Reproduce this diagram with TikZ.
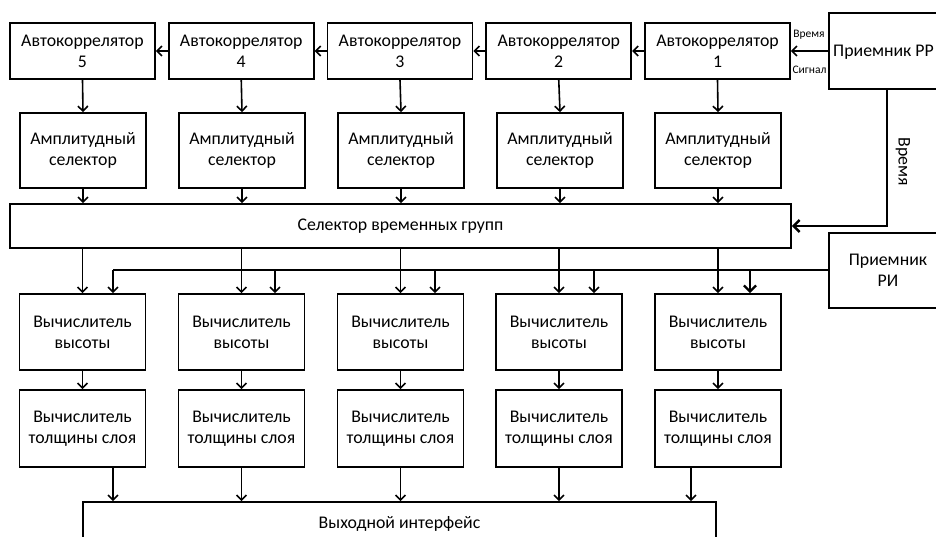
\documentclass[tikz,border=0pt]{standalone}
\usepackage{fontspec}
\setmainfont{Carlito}
\usetikzlibrary{arrows.meta}
\begin{document}
\begin{tikzpicture}[x=1pt,y=-1pt,
  box/.style={draw, line width=1.7pt, align=center, inner sep=0pt, font=\fontsize{17.8}{21}\selectfont},
  acbox/.style={box, minimum width=145pt, minimum height=56pt},
  ambox/.style={box, minimum width=126pt, minimum height=75pt},
  vbox/.style={box, minimum width=126pt, minimum height=76pt},
  tbox/.style={box, minimum width=126pt, minimum height=77pt},
  arr/.style={line width=1.6pt, -{Straight Barb[length=5pt,width=10pt,line width=1.6pt]}},
  thickarr/.style={line width=2.4pt, -{Straight Barb[length=6pt,width=12pt,line width=2.4pt]}},
  lbl/.style={font=\fontsize{11.5}{13}\selectfont, inner sep=0pt},
  bigl/.style={font=\fontsize{17.8}{21}\selectfont, inner sep=0pt}
]
\useasboundingbox (0,0) rectangle (936,536);

% autocorrelators
\node[acbox] (a1) at (717.5,51) {Автокоррелятор\\1};
\node[acbox] (a2) at (558.75,51) {Автокоррелятор\\2};
\node[acbox] (a3) at (400,51) {Автокоррелятор\\3};
\node[acbox] (a4) at (241.25,51) {Автокоррелятор\\4};
\node[acbox] (a5) at (82.5,51) {Автокоррелятор\\5};

% receivers
\node[box, minimum width=128pt, minimum height=76pt] (rr) at (893,51) {};
\node[bigl, anchor=west] (rrt) at (833,52) {Приемник РР};
\node[box, minimum width=118pt, minimum height=75pt] (ri) at (888,270.5) {Приемник\\РИ};

% amplitude selectors
\foreach \i/\x in {1/718,2/560,3/401,4/242,5/83}{
  \node[ambox] (s\i) at (\x,150.5) {Амплитудный\\селектор};
}

% group selector
\node[box, minimum width=781pt, minimum height=44pt] (sel) at (400.5,226) {Селектор временных групп};

% height calculators
\foreach \i/\x in {1/718,2/559,3/400.5,4/241.5,5/82.5}{
  \node[vbox] (v\i) at (\x,332) {Вычислитель\\высоты};
  \node[tbox] (t\i) at (\x,428.5) {Вычислитель\\толщины слоя};
}

% output interface
\node[box, minimum width=633pt, minimum height=44pt] (out) at (399.5,524) {Выходной интерфейс};

% chain of autocorrelators
\draw[arr] (rr.west |- a1) -- (a1.east);
\draw[arr] (a1.west) -- (a2.east);
\draw[arr] (a2.west) -- (a3.east);
\draw[arr] (a3.west) -- (a4.east);
\draw[arr] (a4.west) -- (a5.east);
\node[lbl] at (809,35) {Время};
\node[lbl] at (809.5,70) {Сигнал};

% vertical flows
\foreach \i in {1,...,5}{
  \draw[arr] (a\i.south) -- (s\i.north);
  \draw[arr] (s\i.south) -- (s\i.south |- sel.north);
  \draw[arr] (v\i.north |- sel.south) -- (v\i.north);
  \draw[arr] (v\i.south) -- (t\i.north);
}

% time line from receiver RR
\coordinate (tk) at (887,226);
\draw[thickarr] (rr.south -| tk) -- (tk) -- (sel.east);
\node[bigl, rotate=-90] at (903,162) {Время};

% RI distribution line
\coordinate (rl) at (113,270);
\draw[line width=1.6pt] (ri.west |- rl) -- (rl);
\draw[arr] (rl) -- (rl |- v5.north);
\foreach \i/\x in {4/275,3/435,2/594}{
  \draw[arr] (\x,270) -- (\x,0 |- v\i.north);
}
\draw[thickarr] (750,270) -- (750,0 |- v1.north);

% to output interface
\draw[arr] (113,0 |- t5.south) -- (113,0 |- out.north);
\draw[arr] (t4.south) -- (t4.south |- out.north);
\draw[arr] (t3.south) -- (t3.south |- out.north);
\draw[arr] (t2.south) -- (t2.south |- out.north);
\draw[arr] (691,0 |- t1.south) -- (691,0 |- out.north);
\end{tikzpicture}
\end{document}
